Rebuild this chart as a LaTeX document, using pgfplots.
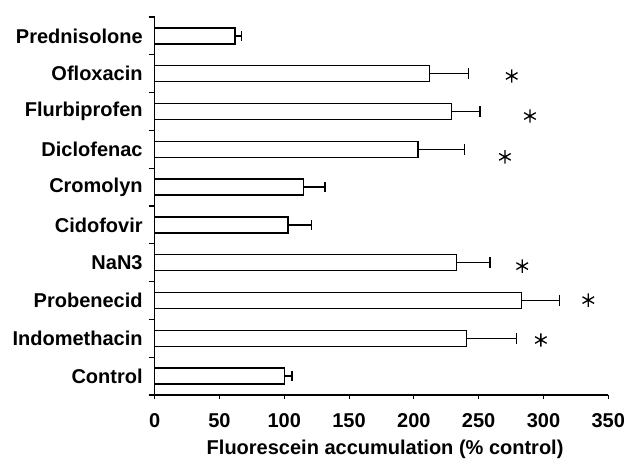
\documentclass[border=0pt]{standalone}
\usepackage{pgfplots}
\pgfplotsset{compat=1.18}
\usepackage{fontspec}
\setmainfont{Liberation Sans}
\pgfplotstableread{
c v e
0 100.3 5.6
1 240.7 38.3
2 282.9 29.3
3 232.7 26.0
4 102.9 18.1
5 114.7 16.7
6 203.2 35.7
7 228.9 22.1
8 212.2 29.8
9 62.0 4.8
}\datatable
\begin{document}
\begin{tikzpicture}
\begin{axis}[
  scale only axis,
  width=340.2pt, height=283.5pt,
  xmin=0, xmax=350, ymin=-0.5, ymax=9.5,
  axis x line*=bottom, axis y line*=left,
  axis line style={black, line width=0.8pt},
  xtick={0,50,...,350},
  ytick={0,...,9},
  yticklabels={Control,Indomethacin,Probenecid,NaN3,Cidofovir,Cromolyn,Diclofenac,Flurbiprofen,Ofloxacin,Prednisolone},
  minor ytick={-0.5,0.5,...,9.5},
  tick align=outside,
  major tick length=3pt,
  minor tick length=4.5pt,
  major y tick style={draw=none},
  minor y tick style={black, line width=0.8pt},
  major x tick style={black, line width=0.8pt},
  /pgf/number format/assume math mode=true,
  ticklabel style={font=\fontsize{15}{17}\selectfont\bfseries},
  yticklabel style={xshift=-2.5pt},
  xticklabel style={yshift=-7pt},
  xlabel={Fluorescein accumulation (\% control)},
  xlabel style={font=\fontsize{15}{17}\selectfont\bfseries, at={(axis description cs:0.508,0)}, anchor=center, yshift=-40.5pt},
  clip=false,
]
\addplot[xbar, bar width=12pt, fill=white, draw=black, line width=1pt,
  error bars/.cd, x dir=plus, x explicit,
  error mark=|,
  error bar style={line width=1pt, black},
  error mark options={black, line width=1pt, mark size=4pt}]
  table[x=v, y=c, x error=e] {\datatable};
\addplot[only marks, mark=asterisk, mark size=5pt, line width=1pt, black] coordinates {
  (275.5,7.94) (289.6,6.88) (270.3,5.80) (283.6,2.91) (334.6,2.01) (298.0,0.955)
};
\end{axis}
\pgfresetboundingbox
\path (current axis.south west) ++(-116pt,-53.25pt) rectangle ++(469.5pt,349.5pt);
\end{tikzpicture}
\end{document}
